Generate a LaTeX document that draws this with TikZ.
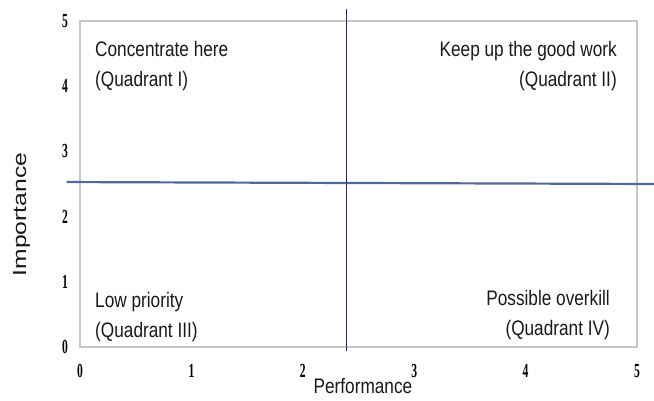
\documentclass[tikz,border=0pt]{standalone}
\usepackage{fontspec}
\setmainfont{Liberation Sans}
\newfontfamily\quadfont[FakeStretch=0.82]{Liberation Sans}
\newfontfamily\tallfont[FakeStretch=1.3]{Liberation Sans}
\newfontfamily\tickfont[FakeStretch=0.58]{Liberation Serif}

\definecolor{framegray}{RGB}{200,200,200}
\definecolor{splitnavy}{RGB}{28,45,125}
\definecolor{splitblue}{RGB}{80,105,150}
\definecolor{inkgray}{RGB}{25,25,25}

\begin{document}
\begin{tikzpicture}[
  x=111.4pt, y=65.2pt,
  quad/.style={inner sep=0pt, text=inkgray, align=#1,
               font=\quadfont\fontsize{21}{30}\selectfont},
  tick/.style={inner sep=0pt, font=\tickfont\bfseries\fontsize{20}{20}\selectfont},
  axistitle/.style={inner sep=0pt, text=inkgray},
  frame/.style={draw=framegray, line width=1.2pt},
  split/.style={line width=#1}
]
\useasboundingbox (-80pt,-54pt) rectangle (574pt,347pt);

% plot area
\draw[frame] (0,0) rectangle (5,5);

% quadrant split at the mean values
\draw[split=2.2pt, splitblue] (-0.12,2.53) -- (5.153,2.50);
\draw[split=1.3pt, splitnavy] (2.39,-0.06) -- (2.39,5.18);

% scales
\foreach \v in {0,...,5} {
  \node[tick, yshift=-24pt] (xt\v) at (\v,0) {\v};
  \node[tick, xshift=-15pt] (yt\v) at (0,\v) {\v};
}

\node[axistitle, yshift=-39pt, font=\quadfont\fontsize{21}{21}\selectfont]
  (perf) at (2.54,0) {Performance};
\node[axistitle, xshift=-58.5pt, rotate=90, font=\tallfont\fontsize{19}{19}\selectfont]
  (imp) at (0,2.03) {Importance};

% quadrant captions
\node[quad=left, anchor=north west] (q1) at (0.135,4.69)
  {Concentrate here\\(Quadrant I)};
\node[quad=right, anchor=north east] (q2) at (4.82,4.69)
  {Keep up the good work\\(Quadrant II)};
\node[quad=left, anchor=north west] (q3) at (0.135,0.84)
  {Low priority\\(Quadrant III)};
\node[quad=right, anchor=north east] (q4) at (4.758,0.87)
  {Possible overkill\\(Quadrant IV)};
\end{tikzpicture}
\end{document}
